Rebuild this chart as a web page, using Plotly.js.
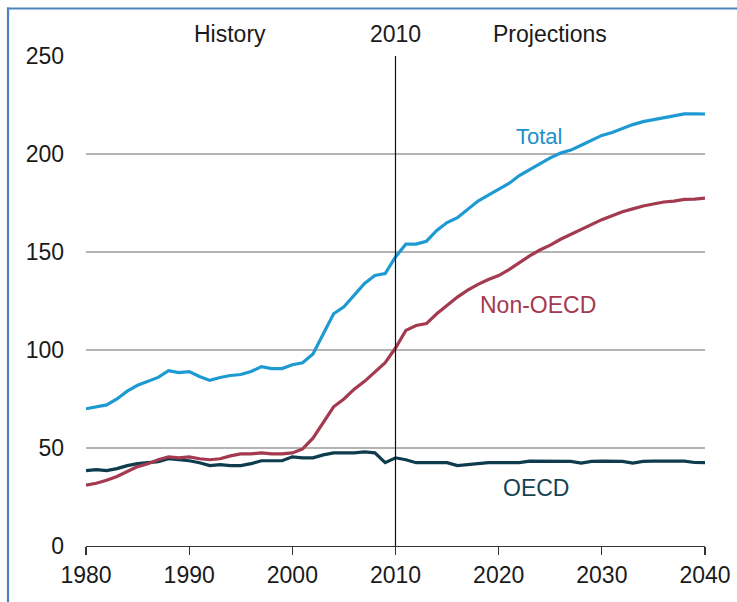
<!DOCTYPE html>
<html>
<head>
<meta charset="utf-8">
<script src="https://cdn.plot.ly/plotly-3.0.1.min.js"></script>
<style>
html,body{margin:0;padding:0;background:#fff;}
#chart{width:737px;height:602px;}
</style>
</head>
<body>
<div id="chart"></div>
<script>
var years = [];
for (var y = 1980; y <= 2040; y++) years.push(y);

var total = [70, 71, 72, 75, 79, 82, 84, 86, 89.5, 88.5,
  89, 86.5, 84.5, 86, 87, 87.5, 89, 91.5, 90.5, 90.5,
  92.5, 93.5, 98, 108, 118.5, 122, 128, 134, 138, 139,
  147.5, 154, 154, 155.5, 161, 165, 167.5, 172, 176, 179,
  182, 185, 189, 192, 195, 198, 200.5, 202, 204.5, 207,
  209.5, 211, 213, 215, 216.5, 217.5, 218.7, 219.8, 220.5, 220.5,
  220.4];

var nonOecd = [31, 32, 33.5, 35.5, 38, 40.5, 42, 44, 45.5, 45,
  45.5, 44.5, 44, 44.5, 46, 47, 47, 47.5, 47, 47,
  47.5, 49.5, 55, 63, 71, 75, 80, 84, 88.5, 93.5,
  101, 110, 112.5, 113.5, 118.5, 123, 127, 130.5, 133.5, 136,
  138, 141, 144.5, 148, 151, 153.5, 156.5, 159, 161.5, 164,
  166.5, 168.5, 170.5, 172, 173.5, 174.5, 175.5, 176, 176.8, 177,
  177.5];

var oecd = [38.5, 39, 38.5, 39.5, 41, 42, 42.5, 43, 44.5, 44,
  43.5, 42.5, 41, 41.5, 41, 41, 42, 43.5, 43.5, 43.5,
  45.5, 45, 45, 46.5, 47.5, 47.5, 47.5, 48, 47.5, 42.5,
  45, 44, 42.5, 42.5, 42.5, 42.5, 41, 41.5, 42, 42.5,
  42.5, 42.5, 42.5, 43.3, 43.3, 43.3, 43.3, 43.2, 42.3, 43.2,
  43.3, 43.3, 43.2, 42.3, 43.2, 43.3, 43.3, 43.3, 43.3, 42.6,
  42.5];

var xTicks = [1980, 1990, 2000, 2010, 2020, 2030, 2040];
var yTicks = [0, 50, 100, 150, 200, 250];
var dividerYear = 2010;

var cTotal = '#1e9ad3', cNon = '#a43a4f', cOecd = '#0f3b4f';
var FONT = 'Liberation Sans, Arial, sans-serif';

var traces = [
  {x: years, y: oecd, mode: 'lines', line: {color: cOecd, width: 3.2}, hoverinfo: 'skip'},
  {x: years, y: nonOecd, mode: 'lines', line: {color: cNon, width: 3.2}, hoverinfo: 'skip'},
  {x: years, y: total, mode: 'lines', line: {color: cTotal, width: 3.2}, hoverinfo: 'skip'}
];

var layout = {
  width: 737, height: 602,
  margin: {l: 86, r: 32, t: 56, b: 56, pad: 0},
  paper_bgcolor: '#fff', plot_bgcolor: '#fff',
  showlegend: false,
  font: {family: FONT, size: 23, color: '#1a1a1a'},
  xaxis: {
    range: [1980, 2040], tickvals: xTicks, ticktext: xTicks.map(String),
    showgrid: false, zeroline: false, showline: true, linecolor: '#333', linewidth: 1.3,
    ticks: 'outside', ticklen: 8, tickcolor: '#333', tickwidth: 1.3,
    tickfont: {family: FONT, size: 23, color: '#1a1a1a'}, fixedrange: true
  },
  yaxis: {
    range: [0, 250], tickvals: yTicks, ticktext: yTicks.map(String),
    showgrid: true, gridcolor: '#b4b4b4', gridwidth: 1.2, zeroline: false, showline: false,
    ticks: '', ticklabelstandoff: 21,
    tickfont: {family: FONT, size: 23, color: '#1a1a1a'}, fixedrange: true
  },
  shapes: [
    {type: 'line', xref: 'x', yref: 'paper', x0: dividerYear, x1: dividerYear, y0: 0, y1: 1,
     line: {color: '#111', width: 1.2}},
    {type: 'line', xref: 'paper', yref: 'paper', x0: -0.1260, x1: -0.1260, y0: 1.0990, y1: -0.12,
     line: {color: '#4f81bd', width: 2.2}},
    {type: 'line', xref: 'paper', yref: 'paper', x0: -0.1276, x1: 1.06, y0: 1.0969, y1: 1.0969,
     line: {color: '#4f81bd', width: 2.2}}
  ],
  annotations: [
    {text: 'History', x: 1994, xref: 'x', y: 1.045, yref: 'paper', yanchor: 'middle', xanchor: 'center',
     showarrow: false, font: {family: FONT, size: 23, color: '#1a1a1a'}},
    {text: '2010', x: 2010, xref: 'x', y: 1.045, yref: 'paper', yanchor: 'middle', xanchor: 'center',
     showarrow: false, font: {family: FONT, size: 23, color: '#1a1a1a'}},
    {text: 'Projections', x: 2025, xref: 'x', y: 1.045, yref: 'paper', yanchor: 'middle', xanchor: 'center',
     showarrow: false, font: {family: FONT, size: 23, color: '#1a1a1a'}},
    {text: 'Total', x: 2023.9, y: 209, xref: 'x', yref: 'y', xanchor: 'center', yanchor: 'middle',
     showarrow: false, font: {family: FONT, size: 22, color: '#2391c9'}},
    {text: 'Non-OECD', x: 2023.8, y: 123, xref: 'x', yref: 'y', xanchor: 'center', yanchor: 'middle',
     showarrow: false, font: {family: FONT, size: 23, color: cNon}},
    {text: 'OECD', x: 2023.6, y: 29.6, xref: 'x', yref: 'y', xanchor: 'center', yanchor: 'middle',
     showarrow: false, font: {family: FONT, size: 23, color: '#164252'}}
  ]
};

Plotly.newPlot('chart', traces, layout, {staticPlot: true, displayModeBar: false});
</script>
</body>
</html>
